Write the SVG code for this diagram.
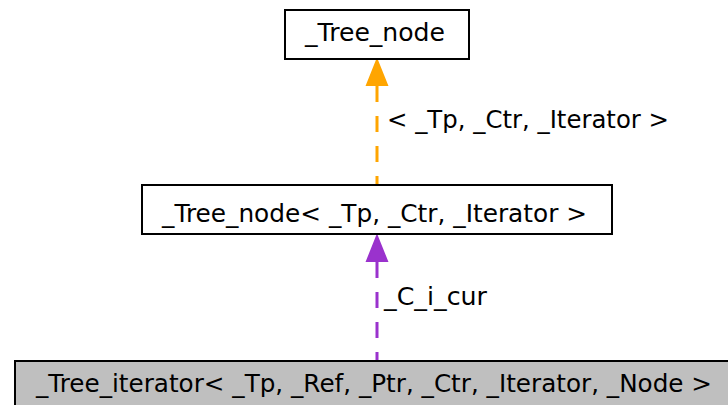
<svg xmlns="http://www.w3.org/2000/svg" width="728" height="405" viewBox="0 0 728 405">
  <style>
    .box { fill: #ffffff; stroke: #000000; stroke-width: 2; }
    .box.sel { fill: #bfbfbf; }
    .lbl { font-family: "DejaVu Sans", sans-serif; font-size: 25.5px; fill: #000000; }
    .edge { fill: none; stroke-width: 3; stroke-dasharray: 16 14; }
  </style>
  <rect width="728" height="405" fill="#ffffff"/>

  <g id="connectors">
    <!-- template instance edge, drawn from the head downwards -->
    <line class="edge" x1="377" y1="86" x2="377" y2="185" stroke="#ffa500"/>
    <path d="M377,60 L387,85 L367,85 Z" fill="#ffa500" stroke="#ffa500" stroke-width="2"/>
    <text class="lbl" x="387" y="128" textLength="282" lengthAdjust="spacingAndGlyphs">&lt; _Tp, _Ctr, _Iterator &gt;</text>
    <!-- member usage edge -->
    <line class="edge" x1="377" y1="262" x2="377" y2="361" stroke="#9a32cd"/>
    <path d="M377,236 L387,261 L367,261 Z" fill="#9a32cd" stroke="#9a32cd" stroke-width="2"/>
    <text class="lbl" x="384" y="305" textLength="103" lengthAdjust="spacingAndGlyphs">_C_i_cur</text>
  </g>

  <g id="node-tree-node">
    <rect class="box" x="285" y="10" width="184" height="49"/>
    <text class="lbl" x="305" y="41" textLength="140" lengthAdjust="spacingAndGlyphs">_Tree_node</text>
  </g>

  <g id="node-tree-node-inst">
    <rect class="box" x="142" y="185" width="470" height="49"/>
    <text class="lbl" x="162" y="222" textLength="425" lengthAdjust="spacingAndGlyphs">_Tree_node&lt; _Tp, _Ctr, _Iterator &gt;</text>
  </g>

  <g id="node-tree-iterator">
    <rect class="box sel" x="15" y="361" width="730" height="60"/>
    <text class="lbl" x="36" y="392" textLength="676" lengthAdjust="spacingAndGlyphs">_Tree_iterator&lt; _Tp, _Ref, _Ptr, _Ctr, _Iterator, _Node &gt;</text>
  </g>
</svg>
